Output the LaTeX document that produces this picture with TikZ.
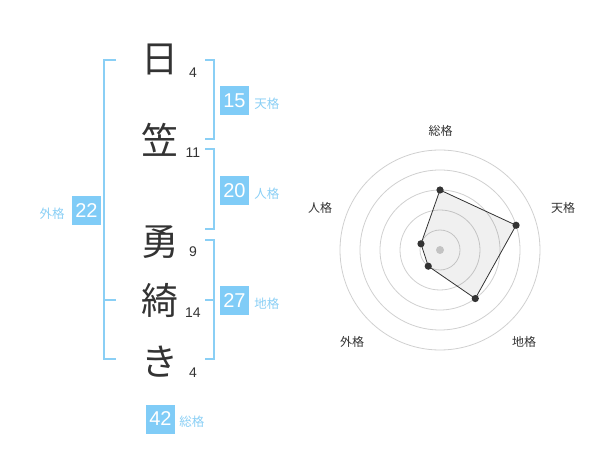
\documentclass[tikz,border=0pt]{standalone}
\usepackage{fontspec}
\setmainfont{Liberation Sans}
\newfontfamily\jpfont{Noto Sans CJK JP}
\usetikzlibrary{positioning}
\definecolor{sky}{HTML}{80CCF7}
\definecolor{skytext}{HTML}{8ACFF5}
\definecolor{ink}{HTML}{333333}
\definecolor{ring}{HTML}{D0D0D0}
\tikzset{
  kanji_font/.style = {font=\jpfont\fontsize{37}{37}\selectfont},
  stroke_font/.style = {font=\fontsize{14}{14}\selectfont},
  score_font/.style = {font=\fontsize{20}{20}\selectfont},
  label_font/.style = {font=\jpfont\fontsize{12.5}{12.5}\selectfont}
}
\tikzset{
  kanji/.style = {kanji_font, text=ink, inner sep=0},
  stroke/.style = {stroke_font, text=ink, inner sep=0},
  score/.style = {score_font, fill=sky, text=white, minimum size=29pt, inner sep=0},
  kaku/.style = {label_font, text=skytext, inner sep=0},
  axis_label/.style = {font=\jpfont\fontsize{12}{12}\selectfont, text=ink, inner sep=0},
  bracket/.style = {draw=skytext, line width=2pt},
  ring_line/.style = {draw=ring, line width=0.8pt},
  poly/.style = {draw=ink, line width=0.8pt, fill=black, fill opacity=0.06}
}
\begin{document}
\begin{tikzpicture}[x=1pt, y=-1pt]
        \useasboundingbox (0,0) rectangle (600,470);

        % Name
        \node[kanji] (k_1) at (160,59) {日};
        \node[kanji] (k_2) at (160,140) {笠};
        \node[kanji] (k_3) at (160,242) {勇};
        \node[kanji] (k_4) at (160,300) {綺};
        \node[kanji] (k_5) at (160,362) {き};

        % stroke counts
        \node[stroke] (s_1) at (193,73) {4};
        \node[stroke] (s_2) at (193,153) {11};
        \node[stroke] (s_3) at (193,252) {9};
        \node[stroke] (s_4) at (193,313) {14};
        \node[stroke] (s_5) at (193,373) {4};

        % Brackets
        \draw[bracket] (116,60)--(104,60)--(104,359)--(116,359);
        \draw[bracket] (104,300)--(116,300);
        \draw[bracket] (205,60)--(214,60)--(214,139)--(205,139);
        \draw[bracket] (205,149)--(214,149)--(214,229)--(205,229);
        \draw[bracket] (205,240)--(214,240)--(214,359)--(205,359);
        \draw[bracket] (205,300)--(214,300);

        % Scores
        \node[score] (b_ten) at (234.5,100.5) {15};
        \node[kaku, right=5pt of b_ten, yshift=-3pt] (l_ten) {天格};
        \node[score] (b_jin) at (234.5,190.5) {20};
        \node[kaku, right=5pt of b_jin, yshift=-3pt] (l_jin) {人格};
        \node[score] (b_chi) at (234.5,300.5) {27};
        \node[kaku, right=5pt of b_chi, yshift=-3pt] (l_chi) {地格};
        \node[score] (b_gai) at (86.5,210.5) {22};
        \node[kaku, left=7pt of b_gai, yshift=-3pt] (l_gai) {外格};
        \node[score] (b_sou) at (160.5,419) {42};
        \node[kaku, right=4pt of b_sou, yshift=-3pt] (l_sou) {総格};

        % Radar
        \coordinate (c) at (440,250);
        \foreach \r in {20,40,60,80,100}
            \draw[ring_line] (c) circle (\r pt);
        \fill[ring] (c) circle (4pt);

        \coordinate (p_sou) at ([shift={(-90:60)}]c);
        \coordinate (p_ten) at ([shift={(-18:80)}]c);
        \coordinate (p_chi) at ([shift={(54:60)}]c);
        \coordinate (p_gai) at ([shift={(126:20)}]c);
        \coordinate (p_jin) at ([shift={(-162:20)}]c);

        \draw[poly] (p_sou)--(p_ten)--(p_chi)--(p_gai)--(p_jin)--cycle;
        \foreach \p in {p_sou, p_ten, p_chi, p_gai, p_jin}
            \fill[ink] (\p) circle (3.6pt);

        \node[axis_label] (a_sou) at (440.5,131) {総格};
        \node[axis_label] (a_ten) at (563,208) {天格};
        \node[axis_label] (a_chi) at (524,342) {地格};
        \node[axis_label] (a_gai) at (352,342) {外格};
        \node[axis_label] (a_jin) at (320,208) {人格};
\end{tikzpicture}
\end{document}
